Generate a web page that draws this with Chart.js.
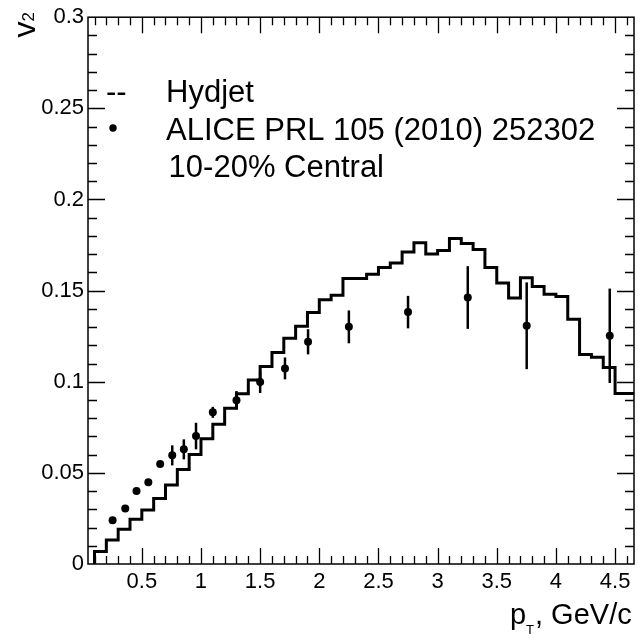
<!DOCTYPE html>
<html>
<head>
<meta charset="utf-8">
<script src="https://cdn.jsdelivr.net/npm/chart.js@4.4.1/dist/chart.umd.min.js"></script>
<style>
  html, body { margin: 0; padding: 0; background: #fff; }
  canvas { display: block; }
</style>
</head>
<body>
<canvas id="myChart" width="638" height="636"></canvas>
<script>
const ctx = document.getElementById('myChart');
const FONT = '"Liberation Sans", Arial, Helvetica, sans-serif';

// Hydjet histogram: bin edges (0.1 wide) and v2 per bin
const hydjetEdges = [0.1, 0.2, 0.3, 0.4, 0.5, 0.6, 0.7, 0.8, 0.9, 1.0,
  1.1, 1.2, 1.3, 1.4, 1.5, 1.6, 1.7, 1.8, 1.9, 2.0,
  2.1, 2.2, 2.3, 2.4, 2.5, 2.6, 2.7, 2.8, 2.9, 3.0,
  3.1, 3.2, 3.3, 3.4, 3.5, 3.6, 3.7, 3.8, 3.9, 4.0,
  4.1, 4.2, 4.3, 4.4, 4.5, 4.6, 4.7];
const hydjetV2 = [0.0068, 0.0132, 0.0190, 0.0245, 0.0296, 0.0360, 0.0433, 0.0519, 0.0601, 0.0687,
  0.0767, 0.0855, 0.0934, 0.1009, 0.1084, 0.1161, 0.1238, 0.1305, 0.1380, 0.1450,
  0.1475, 0.1566, 0.1566, 0.1590, 0.1627, 0.1652, 0.1712, 0.1762, 0.1701, 0.1720,
  0.1786, 0.1758, 0.1725, 0.1627, 0.1542, 0.1460, 0.1570, 0.1522, 0.1480, 0.1468,
  0.1343, 0.1150, 0.1135, 0.1078, 0.0936, 0.0936];

// ALICE PRL 105 (2010) 252302, 10-20% central
const aliceX = [0.253, 0.36, 0.455, 0.555, 0.655, 0.757, 0.855, 0.958, 1.1, 1.3,
  1.5, 1.71, 1.905, 2.25, 2.75, 3.255, 3.753, 4.455];
const aliceV2 = [0.0240, 0.0305, 0.0400, 0.0448, 0.0548, 0.0596, 0.0629, 0.0702, 0.0832, 0.0899,
  0.0998, 0.1073, 0.1219, 0.1301, 0.1382, 0.1462, 0.1307, 0.1252];
const aliceErr = [0.0012, 0.0012, 0.0012, 0.0012, 0.0015, 0.0055, 0.0055, 0.0073, 0.0030, 0.0050,
  0.0060, 0.0060, 0.0069, 0.0090, 0.0089, 0.0172, 0.0238, 0.0259];

// axis ticks
const xTickValues = [0.5, 1, 1.5, 2, 2.5, 3, 3.5, 4, 4.5];
const xTickLabels = ['0.5', '1', '1.5', '2', '2.5', '3', '3.5', '4', '4.5'];
const yTickValues = [0, 0.05, 0.1, 0.15, 0.2, 0.25, 0.3];
const yTickLabels = ['0', '0.05', '0.1', '0.15', '0.2', '0.25', '0.3'];

let histPoints = [{ x: hydjetEdges[0], y: 0 }];
for (let i = 0; i < hydjetV2.length; i++) {
    histPoints.push({ x: hydjetEdges[i], y: hydjetV2[i] });
}
histPoints.push({ x: hydjetEdges[hydjetEdges.length - 1], y: hydjetV2[hydjetV2.length - 1] });

const alicePoints = aliceX.map((v, i) => ({ x: v, y: aliceV2[i] }));

// vertical error bars on the ALICE points
const errorBars = {
    id: 'errorBars',
    afterDatasetsDraw(chart) {
        const c = chart.ctx;
        const x = chart.scales.x, y = chart.scales.y;
        c.save();
        c.strokeStyle = '#000';
        c.lineWidth = 2.5;
        for (let i = 0; i < aliceX.length; i++) {
            const px = x.getPixelForValue(aliceX[i]);
            c.beginPath();
            c.moveTo(px, y.getPixelForValue(aliceV2[i] - aliceErr[i]));
            c.lineTo(px, y.getPixelForValue(aliceV2[i] + aliceErr[i]));
            c.stroke();
        }
        c.restore();
    }
};

// ROOT style frame with inward ticks on all four sides, plus texts
const frame = {
    id: 'frame',
    afterDraw(chart) {
        const c = chart.ctx;
        const a = chart.chartArea;
        const x = chart.scales.x, y = chart.scales.y;
        c.save();
        c.strokeStyle = '#000';
        c.lineWidth = 1.5;
        c.strokeRect(a.left, a.top, a.right - a.left, a.bottom - a.top);
        c.lineWidth = 1.3;
        c.beginPath();
        for (let i = 1; i <= 46; i++) {
            const v = i / 10;
            const px = Math.round(x.getPixelForValue(v)) + 0.5;
            if (px < a.left || px > a.right) continue;
            const len = (i % 5 === 0) ? 16 : 8;
            c.moveTo(px, a.bottom); c.lineTo(px, a.bottom - len);
            c.moveTo(px, a.top); c.lineTo(px, a.top + len);
        }
        for (let i = 1; i < 30; i++) {
            const v = i / 100;
            const py = Math.round(y.getPixelForValue(v)) + 0.5;
            const len = (i % 5 === 0) ? 17 : 9;
            c.moveTo(a.left, py); c.lineTo(a.left + len, py);
            c.moveTo(a.right, py); c.lineTo(a.right - len, py);
        }
        c.stroke();

        // legend
        c.fillStyle = '#000';
        c.textBaseline = 'alphabetic';
        c.textAlign = 'left';
        c.font = '31px ' + FONT;
        c.fillText('--', 106, 102);
        c.fillText('Hydjet', 166, 102);
        c.fillText('ALICE PRL 105 (2010) 252302', 166, 140);
        c.fillText(' 10-20% Central', 160, 177);
        c.beginPath();
        c.arc(113, 128, 3.7, 0, Math.PI * 2);
        c.fill();

        // x title: p_T, GeV/c
        c.font = '29px ' + FONT;
        c.fillText('p', 510, 624);
        c.font = '13px ' + FONT;
        c.fillText('T', 526, 634);
        c.font = '29px ' + FONT;
        c.fillText(', GeV/c', 535, 624);

        // y title: v_2 rotated
        c.translate(35, 12);
        c.rotate(-Math.PI / 2);
        c.font = '17px ' + FONT;
        const w2 = c.measureText('2').width;
        c.font = '32px ' + FONT;
        const wv = c.measureText('v').width;
        c.fillText('v', -wv - w2, 0);
        c.font = '17px ' + FONT;
        c.fillText('2', -w2, -1);
        c.restore();
    }
};

new Chart(ctx, {
    type: 'line',
    data: {
        datasets: [{
            label: 'Hydjet',
            data: histPoints,
            stepped: true,
            borderColor: '#000',
            borderWidth: 3,
            pointRadius: 0,
            fill: false
        }, {
            label: 'ALICE PRL 105 (2010) 252302',
            data: alicePoints,
            showLine: false,
            pointRadius: 4,
            pointBackgroundColor: '#000',
            pointBorderColor: '#000',
            pointBorderWidth: 0
        }]
    },
    options: {
        responsive: false,
        animation: false,
        layout: { padding: { top: 17, right: 2, left: 0, bottom: 0 } },
        plugins: { legend: { display: false }, tooltip: { enabled: false } },
        scales: {
            x: {
                type: 'linear',
                min: 0.045,
                max: 4.66,
                grid: { display: false, drawTicks: false },
                border: { display: false },
                afterFit: s => { s.height = 72; },
                afterBuildTicks: s => { s.ticks = xTickValues.map(v => ({ value: v })); },
                ticks: {
                    callback: (v, i) => xTickLabels[i],
                    autoSkip: false,
                    maxRotation: 0,
                    padding: 5,
                    color: '#000',
                    font: { family: FONT, size: 22 }
                }
            },
            y: {
                type: 'linear',
                min: 0,
                max: 0.3,
                grid: { display: false, drawTicks: false },
                border: { display: false },
                afterFit: s => { s.width = 88; },
                afterBuildTicks: s => { s.ticks = yTickValues.map(v => ({ value: v })); },
                ticks: {
                    callback: (v, i) => yTickLabels[i],
                    autoSkip: false,
                    padding: 4,
                    color: '#000',
                    font: { family: FONT, size: 22 }
                }
            }
        }
    },
    plugins: [errorBars, frame]
});
</script>
</body>
</html>
